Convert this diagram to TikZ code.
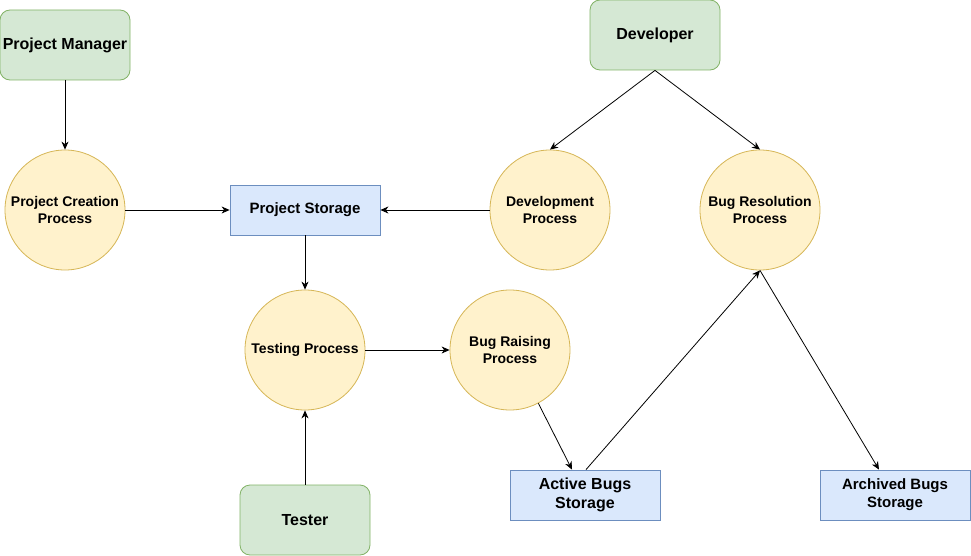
\documentclass[tikz,border=0pt]{standalone}
\usepackage{fontspec}
\setmainfont{Liberation Sans}
\usetikzlibrary{arrows.meta}
\definecolor{actorfill}{HTML}{D5E8D4}
\definecolor{actorstroke}{HTML}{82B366}
\definecolor{procfill}{HTML}{FFF2CC}
\definecolor{procstroke}{HTML}{D6B656}
\definecolor{storefill}{HTML}{DAE8FC}
\definecolor{storestroke}{HTML}{6C8EBF}
\begin{document}
\begin{tikzpicture}[x=1pt,y=-1pt,
 actor/.style={draw=actorstroke, fill=actorfill, rounded corners=10pt, minimum width=130pt, minimum height=70pt, inner sep=0pt, font=\fontsize{16}{19}\selectfont\bfseries, line width=0.8pt},
 proc/.style={circle, draw=procstroke, fill=procfill, minimum size=120pt, inner sep=0pt, align=center, font=\fontsize{14}{17}\selectfont\bfseries, line width=0.8pt},
 store/.style={draw=storestroke, fill=storefill, minimum width=150pt, minimum height=50pt, inner sep=0pt, align=center, line width=0.8pt},
 flow/.style={-{Stealth[length=8pt,width=7pt,inset=2.5pt]}, line width=0.8pt}
]
\useasboundingbox (0,0) rectangle (971,556);
\fill[white] (0,0) rectangle (971,556);

\node[actor] (pm) at (65,45) {Project Manager};
\node[actor] (dev) at (655,35) {Developer};
\node[actor] (tester) at (305,520) {Tester};

\node[proc] (pcp) at (65,210) {Project Creation\\Process};
\node[proc] (dp) at (550,210) {Development\\Process};
\node[proc] (brp) at (760,210) {Bug Resolution\\Process};
\node[proc] (tp) at (305,350) {Testing Process};
\node[proc] (bgp) at (510,350) {Bug Raising\\Process};

\node[store, font=\fontsize{15}{18}\selectfont\bfseries] (ps) at (305,210) {Project Storage};
\node[store, font=\fontsize{16}{19}\selectfont\bfseries] (ab) at (585,495) {Active Bugs\\Storage};
\node[store, font=\fontsize{15}{18}\selectfont\bfseries] (arch) at (895,495) {Archived Bugs\\Storage};

\draw[flow] (pm.south) -- (pcp.north);
\draw[flow] (pcp.east) -- (ps.west);
\draw[flow] (dp.west) -- (ps.east);
\draw[flow] (dev.south) -- (dp.north);
\draw[flow] (dev.south) -- (brp.north);
\draw[flow] (ps.south) -- (tp.north);
\draw[flow] (tester.north) -- (tp.south);
\draw[flow] (tp.east) -- (bgp.west);
\draw[flow] (bgp.-62.6) -- ([xshift=-13pt]ab.north);
\draw[flow] ([xshift=1pt]ab.north) -- (brp.south);
\draw[flow] (brp.south) -- ([xshift=-16pt]arch.north);
\end{tikzpicture}
\end{document}
